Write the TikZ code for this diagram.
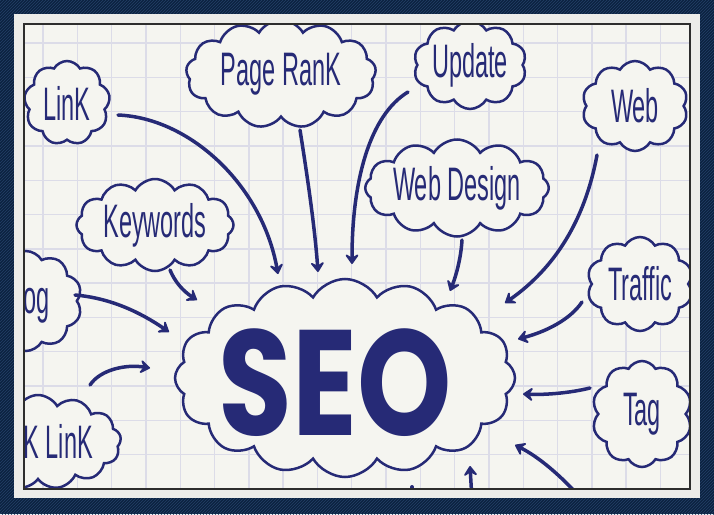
\documentclass[tikz,border=0pt]{standalone}
\usepackage{fontspec}
\usetikzlibrary{shapes.symbols,arrows.meta,patterns}
\newfontfamily\handfont{Liberation Sans}[FakeStretch=0.5]
\newfontfamily\seofont{Poppins}[FakeStretch=0.8]
\definecolor{ink}{RGB}{38,42,118}
\definecolor{paper}{RGB}{245,245,240}
\definecolor{gridc}{RGB}{220,220,232}
\definecolor{navy}{RGB}{12,34,64}
\definecolor{navylight}{RGB}{36,64,104}
\definecolor{borderc}{RGB}{236,236,233}
\definecolor{edgec}{RGB}{45,45,45}
\tikzset{
  bubble/.style={cloud, cloud ignores aspect, cloud puffs=#1, cloud puff arc=120,
    draw=ink, line width=2.5pt, fill=paper, text=ink, inner sep=0pt,
    font=\handfont\fontsize{47}{50}\selectfont},
  bubble/.default=10,
  arr/.style={draw=ink, line width=3.5pt, line cap=round,
    -{Stealth[length=12pt,width=17pt,inset=5pt,round]}},
  gridline/.style={draw=gridc, line width=1.4pt}
}
\begin{document}
\begin{tikzpicture}[x=1pt,y=-1pt]
\useasboundingbox (0,0) rectangle (714,514);
% frame
\fill[navy] (0,0) rectangle (714,514);
\fill[pattern=north east lines, pattern color=navylight] (0,0) rectangle (714,514);
\fill[borderc] (14,14) rectangle (700,498);
\fill[paper] (24,24) rectangle (690,489);
\begin{scope}
\clip (24,24) rectangle (690,489);
\foreach \i in {0,...,19} \draw[gridline] ({43+34.3*\i},24) -- ({43+34.3*\i},489);
\foreach \j in {0,...,13} \draw[gridline] (24,{43+34.3*\j}) -- (690,{43+34.3*\j});
% clouds
\node[bubble=9, minimum width=86pt, minimum height=84pt] (link) at (67,103) {LinK};
\node[bubble=13, minimum width=190pt, minimum height=108pt] (pagerank) at (281,74) {Page RanK};
\node[bubble=10, minimum width=106pt, minimum height=88pt] (update) at (470,65) {Update};
\node[bubble=10, minimum width=106pt, minimum height=90pt] (web) at (635,106) {Web};
\node[bubble=12, minimum width=183pt, minimum height=97pt] (webdesign) at (457,188) {Web Design};
\node[bubble=12, minimum width=157pt, minimum height=92pt] (keywords) at (155,225) {Keywords};
\node[bubble=10, minimum width=112pt, minimum height=100pt] (blog) at (26,301) {Blog};
\node[bubble=13, minimum width=166pt, minimum height=94pt] (backlink) at (38,442) {BacK LinK};
\node[bubble=10, minimum width=106pt, minimum height=94pt] (traffic) at (640,284) {Traffic};
\node[bubble=10, minimum width=100pt, minimum height=106pt] (tag) at (642,414) {Tag};
\node[bubble=16, minimum width=340pt, minimum height=198pt] (seo) at (345,378) {};
\node[text=ink, font=\seofont\bfseries\fontsize{150}{160}\selectfont, inner sep=0pt] (seotext) at (335,383) {SEO};
% arrow end points
\coordinate (a1s) at (118,115); \coordinate (a1e) at (278,274);
\coordinate (a2s) at (300,130); \coordinate (a2e) at (318,272);
\coordinate (a3s) at (408,92);  \coordinate (a3e) at (352,264);
\coordinate (a4s) at (462,240); \coordinate (a4e) at (450,291);
\coordinate (a5s) at (597,155); \coordinate (a5e) at (505,303);
\coordinate (a6s) at (582,302); \coordinate (a6e) at (518,339);
\coordinate (a7s) at (590,388); \coordinate (a7e) at (523,394);
\coordinate (a8s) at (578,495); \coordinate (a8e) at (515,445);
\coordinate (a9s) at (472,500); \coordinate (a9e) at (470,466);
\coordinate (a10s) at (170,270); \coordinate (a10e) at (197,300);
\coordinate (a11s) at (75,295); \coordinate (a11e) at (169,332);
\coordinate (a12s) at (90,385); \coordinate (a12e) at (150,368);
\coordinate (a13s) at (412,500); \coordinate (a13e) at (412,487);
% arrows
\draw[arr] (a1s) .. controls (190,118) and (262,185) .. (a1e);
\draw[arr] (a2s) .. controls (308,180) and (315,230) .. (a2e);
\draw[arr] (a3s) .. controls (370,115) and (352,180) .. (a3e);
\draw[arr] (a4s) .. controls (461,258) and (456,276) .. (a4e);
\draw[arr] (a5s) .. controls (585,220) and (555,268) .. (a5e);
\draw[arr] (a6s) .. controls (570,320) and (545,332) .. (a6e);
\draw[arr] (a7s) .. controls (570,393) and (545,395) .. (a7e);
\draw[arr] (a8s) .. controls (555,470) and (535,455) .. (a8e);
\draw[arr] (a9s) -- (a9e);
\draw[arr] (a10s) .. controls (175,282) and (183,291) .. (a10e);
\draw[arr] (a11s) .. controls (110,298) and (140,312) .. (a11e);
\draw[arr] (a12s) .. controls (100,370) and (125,364) .. (a12e);
\draw[ink, line width=4pt, line cap=round] (a13s) -- (a13e);
\end{scope}
\draw[edgec, line width=1.5pt] (24,24) rectangle (690,489);
\end{tikzpicture}
\end{document}
